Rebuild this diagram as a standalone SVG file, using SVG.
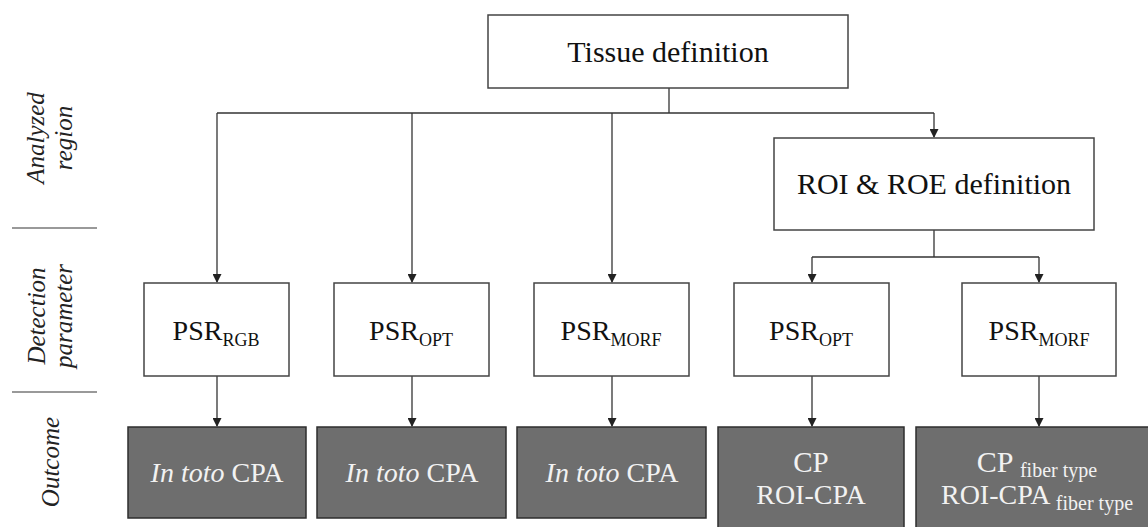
<svg xmlns="http://www.w3.org/2000/svg" width="1148" height="527" viewBox="0 0 1148 527">
<style>
text{font-family:'Liberation Serif',serif !important}
.box{fill:#fff;stroke:#444;stroke-width:1.5}
.out{fill:#6e6e6e;stroke:#2e2e2e;stroke-width:1.5}
.t{fill:#111;text-anchor:middle}
.w{fill:#f2f2f2;text-anchor:middle}
.lab{font-style:italic;fill:#222;font-size:25px;text-anchor:middle}
.ln{fill:none;stroke:#333;stroke-width:1.3}
.div{stroke:#777;stroke-width:1.3}
</style>
<defs>
<marker id="ah" markerWidth="9" markerHeight="9" refX="8" refY="4.5" orient="auto" markerUnits="userSpaceOnUse">
<path d="M0,0 L9,4.5 L0,9 Z" fill="#222"/>
</marker>
</defs>
<rect width="1148" height="527" fill="#fff"/>
<g id="side-labels">
<text class="lab" font-family="Liberation Serif" transform="translate(44,138) rotate(-90)">Analyzed</text>
<text class="lab" font-family="Liberation Serif" transform="translate(72,138) rotate(-90)">region</text>
<line class="div" x1="12" y1="228" x2="97" y2="228"/>
<text class="lab" font-family="Liberation Serif" transform="translate(45,316) rotate(-90)">Detection</text>
<text class="lab" font-family="Liberation Serif" transform="translate(72,316) rotate(-90)">parameter</text>
<line class="div" x1="12" y1="392" x2="97" y2="392"/>
<text class="lab" font-family="Liberation Serif" transform="translate(59,462) rotate(-90)">Outcome</text>
</g>
<g id="connectors">
<polyline class="ln" points="669,88 669,113"/>
<polyline class="ln" points="217,113 934,113"/>
<polyline class="ln" points="217,113 217,282" marker-end="url(#ah)"/>
<polyline class="ln" points="412,113 412,282" marker-end="url(#ah)"/>
<polyline class="ln" points="612,113 612,282" marker-end="url(#ah)"/>
<polyline class="ln" points="934,113 934,137" marker-end="url(#ah)"/>
<polyline class="ln" points="934,230 934,257"/>
<polyline class="ln" points="812,257 1039,257"/>
<polyline class="ln" points="812,257 812,282" marker-end="url(#ah)"/>
<polyline class="ln" points="1039,257 1039,282" marker-end="url(#ah)"/>
<polyline class="ln" points="217,376 217,426" marker-end="url(#ah)"/>
<polyline class="ln" points="412,376 412,426" marker-end="url(#ah)"/>
<polyline class="ln" points="612,376 612,426" marker-end="url(#ah)"/>
<polyline class="ln" points="812,376 812,426" marker-end="url(#ah)"/>
<polyline class="ln" points="1039,376 1039,426" marker-end="url(#ah)"/>
</g>
<g id="tissue">
<rect class="box" x="488" y="15" width="360" height="73"/>
<text class="t" font-family="Liberation Serif" x="668" y="62" font-size="30">Tissue definition</text>
</g>
<g id="roi">
<rect class="box" x="774" y="138" width="320" height="92"/>
<text class="t" font-family="Liberation Serif" x="934" y="194" font-size="30">ROI &amp; ROE definition</text>
</g>
<g id="psr-rgb">
<rect class="box" x="144" y="283" width="145" height="93"/>
<text class="t" font-family="Liberation Serif" x="216" y="340" font-size="28">PSR<tspan font-size="18" dy="6">RGB</tspan></text>
</g>
<g id="psr-opt-1">
<rect class="box" x="334" y="283" width="155" height="93"/>
<text class="t" font-family="Liberation Serif" x="411" y="340" font-size="28">PSR<tspan font-size="18" dy="6">OPT</tspan></text>
</g>
<g id="psr-morf-1">
<rect class="box" x="534" y="283" width="155" height="93"/>
<text class="t" font-family="Liberation Serif" x="611" y="340" font-size="28">PSR<tspan font-size="18" dy="6">MORF</tspan></text>
</g>
<g id="psr-opt-2">
<rect class="box" x="734" y="283" width="155" height="93"/>
<text class="t" font-family="Liberation Serif" x="811" y="340" font-size="28">PSR<tspan font-size="18" dy="6">OPT</tspan></text>
</g>
<g id="psr-morf-2">
<rect class="box" x="962" y="283" width="154" height="93"/>
<text class="t" font-family="Liberation Serif" x="1039" y="340" font-size="28">PSR<tspan font-size="18" dy="6">MORF</tspan></text>
</g>
<g id="out-1">
<rect class="out" x="128" y="427" width="178" height="91"/>
<text class="w" font-family="Liberation Serif" x="217" y="482" font-size="28"><tspan font-style="italic">In toto</tspan> CPA</text>
</g>
<g id="out-2">
<rect class="out" x="317" y="427" width="189" height="91"/>
<text class="w" font-family="Liberation Serif" x="412" y="482" font-size="28"><tspan font-style="italic">In toto</tspan> CPA</text>
</g>
<g id="out-3">
<rect class="out" x="517" y="427" width="189" height="91"/>
<text class="w" font-family="Liberation Serif" x="612" y="482" font-size="28"><tspan font-style="italic">In toto</tspan> CPA</text>
</g>
<g id="out-4">
<rect class="out" x="718" y="427" width="186" height="110"/>
<text class="w" font-family="Liberation Serif" x="811" y="472" font-size="29">CP</text>
<text class="w" font-family="Liberation Serif" x="811" y="504" font-size="28">ROI-CPA</text>
</g>
<g id="out-5">
<rect class="out" x="916" y="427" width="240" height="110"/>
<text class="w" font-family="Liberation Serif" x="1037" y="472" font-size="30">CP <tspan font-size="20" dy="5">fiber type</tspan></text>
<text class="w" font-family="Liberation Serif" x="1037" y="504" font-size="28">ROI-CPA <tspan font-size="20" dy="6">fiber type</tspan></text>
</g>
</svg>
